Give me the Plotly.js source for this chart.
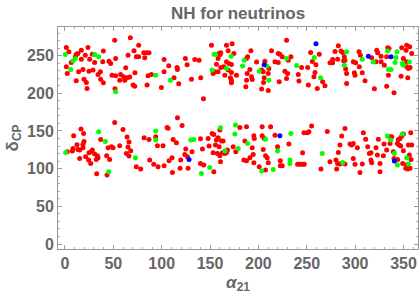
<!DOCTYPE html>
<html><head><meta charset="utf-8">
<script src="https://cdn.plot.ly/plotly-3.0.1.min.js"></script>
<style>html,body{margin:0;padding:0;background:#fff;}#chart{width:420px;height:299px;}</style>
</head><body><div id="chart"></div>
<script>
const redX = [1.4,4.1,11.7,13.4,10.7,16.9,21,23.8,28.3,39.7,6.5,16.9,25.5,30.7,39,1.4,14.1,18.6,24.8,29,2.4,34.2,36.6,11.7,19.7,22.1,36.9,39.7,22.8,51.4,67.6,76.2,71.4,65.2,73.8,76.2,81.4,84.2,86.9,82.5,45.5,47.3,52.4,62.8,72.4,48.6,52.4,57.6,60.7,56.6,64.2,66.9,61.8,70.4,72.1,51.7,85.9,89.4,84.9,102.5,107.3,102.5,99.7,112.8,117.6,124.5,126.3,115.9,116.3,134.2,138.7,130.8,140.4,143.2,151.5,159,161.1,160.4,156.6,167,172.8,168.7,174.6,158.3,167,169.4,172.1,164.2,161.1,154.9,153.2,158.3,168.7,172.1,165.3,171.1,172.1,172.1,177.3,
192.2,188.8,187.7,191.2,188.4,192.9,193.6,187.7,198.1,206.7,203.3,205,210.8,210.2,206,205.3,187,203.3,210.2,213.6,220.5,222.2,217.1,220.5,224.6,229.1,230.9,233.6,227.4,230.2,229.1,221.5,244.7,250.9,241.2,241.9,251.6,254,262.9,259.5,255.7,258.5,257.4,266.4,268.8,260.9,274,276.7,276.7,279.2,282.6,281.9,285.4,287.1,288.8,289.5,288.1,290.2,291.2,291.2,298.1,300.5,304,305.4,304.3,299.2,299.9,307.4,310.2,317.1,321.6,322.3,323.3,326.8,326.8,330.2,332.6,333.7,335,334.4,332.6,340.2,319.9,348.2,353.3,356.4,352.6,358.5,349.9,353.3,353.3,355.1,356.8,347.5,354.4,
116.3,121.1,51.4,16.6,19.3,9,36.9,60,64.2,19.7,18.6,12.4,8.3,7.6,2.4,13.4,15.2,18.6,28.3,27.3,24.8,30.7,33.5,34.2,21.4,15.2,24.5,26.6,32.4,44.5,48,49.7,56.6,66.2,65.2,68,43.1,46.2,63.5,66.2,73.8,78.3,32.8,43.5,81.8,86.9,93.8,95.6,101.4,87.6,91.8,96.3,105.6,106.6,111.8,115.2,102.5,107.6,110.7,111.1,119.7,119,127.3,124.9,123.9,126.6,131.4,140.1,140.1,143.5,153.9,142.1,148,149,152.1,153.9,153.2,155.6,156.6,158.3,160.1,161.8,163.5,159.4,157.7,160.1,160.8,162.8,168,167,165.3,173.9,176.6,
180.8,187.7,203.9,212.6,255,252.2,247.1,250.5,217.1,203.9,206,195.3,195.7,186,193.6,231.5,219.8,205,194.6,191.2,185,187.7,195.3,207.4,209.1,210.2,200.8,207.4,222.6,222.6,224.6,240.5,242.9,245.3,247.4,245.7,264.7,271.2,274,280.2,281.9,284.3,289.5,289.5,286.1,284.3,282.6,280.9,294.7,296.4,298.1,302.3,299.9,298.1,305,308.5,310.9,307.4,313,314.7,316.4,316.4,317.1,321.6,324,323,325.7,325.7,329.9,329.2,336.1,337.8,332.6,336.1,339.5,340.2,343.7,345.4,347.1,344.7,346.4,348.2,349.9,344,349.2,353.3,352.3,354.4,356.8,357.5,355.1,358.5,356.1,357.8,349.9];
const redY = [260.8,255.1,251.9,252.9,248.4,257.3,250.6,260.8,252,256,240.9,245.3,245.3,240.9,241.8,235.2,228.6,231.6,229.4,230.8,226.3,225,228.6,216.6,218.8,214.4,218.8,214,206.4,270.5,273.6,263.9,256.4,250.6,248.4,248.4,253.7,253.7,253.7,247.1,242.7,239.6,246.2,233.9,227.2,224.1,223.2,225,221.9,217.5,220.6,221.5,217.5,210.9,209.5,206,223.2,225,210.9,244.9,236.5,228.6,207.8,220.6,212.6,246.2,237.8,234.3,231.6,244.9,244,218.8,220.6,192.7,263.9,252.9,253.7,251.5,238.7,263.9,265.7,256.4,252.9,246.2,241.8,239.6,238.3,235.2,234.3,228.6,226.3,228.6,230.8,227.7,224.1,220.6,217.5,214,224.1,
256.4,248.4,246.2,231.6,226.3,221.9,218.4,217.5,241.4,242.7,230.8,228.6,233,226.3,220.6,214.4,208.7,205.6,203.8,256.4,252.9,252,241.8,240.9,248.4,270.5,244,248.4,229.4,226.3,219.7,215.3,234.3,234.3,225,216.2,210.9,254.2,252,237.8,242.3,227.7,221.9,215.3,210,206.4,240.5,240.5,244.9,255.5,263,245.3,256,254.2,248.4,244,243.1,232.1,226.3,213.1,241.8,240.5,255.1,250.6,235.2,227.2,224.1,227.2,216.6,247.1,241.8,257.3,253.7,249.3,241.8,237.4,248.4,260.4,259.5,224.1,209.5,200.7,206,260.4,263.9,261.7,257.3,252.9,246.2,241.8,235.2,233,234.3,222.8,220.6,
167.5,157.4,161.3,152.5,146.8,143.7,138.8,152.1,141.9,136.2,132.2,131.7,126.9,123.3,122.4,125.5,124.7,127.8,124.7,122.4,121.1,119.4,117.1,114.5,115.8,113.6,111.4,107,112.3,127.8,129.1,127.8,130.4,135.3,128.6,123.8,117.1,112.3,120.2,116.7,102.6,99.5,93.3,91.5,141,138.8,142.3,130.4,130.4,111.4,105.7,102.6,154.7,153.8,138.8,134.4,103.9,110.5,114.5,95,111.4,100.4,100.4,126,118.9,115.8,122.4,139.7,107,104.8,95.9,126,140.1,130,146.8,145.4,121.1,131.3,137.9,141,151.2,136.6,136.6,129.1,120.2,117.1,109.2,121.1,124.7,121.6,120.2,129.1,122.4,
154.7,155.6,155.6,155.6,156.5,149,147.6,147.6,144.5,143.7,140.1,143.7,140.1,136.6,127.8,132.6,129.1,125.5,118.9,114.5,111.4,110.5,107.9,117.1,114.5,107.9,102.6,98.1,110.5,103.9,103.9,105.7,105.7,105.7,105.7,121.1,99.5,149.4,109.2,111.4,107,106.1,106.1,153.4,143.2,131.3,121.6,99.5,132.6,131.3,133.5,127.8,105.7,113.6,95,147.6,139.2,106.1,129.1,120.2,121.1,111.4,107.9,127.8,139.2,118,107,95.9,132.6,117.1,142.3,142.3,124.7,133.5,122.4,113.6,133.5,131.3,130,138.8,140.1,143.2,145.9,112.3,107,104.8,100.4,99.5,100.4,147.6,131.3,131.3,118,112.3,123.8];
const greenX = [0.3,30.7,34.8,8.3,10.7,5.9,52.4,93.8,109,154.2,155.6,171.8,152.1,167,
185.3,183.6,208.8,200.8,210.8,229.1,239.5,257.8,264.3,291.2,288.8,307.4,318.8,333.7,343.3,342.3,341.3,334.4,337.1,348.8,349.9,356.1,
34.8,41.7,0.7,72.8,45.2,93.8,93.8,130.1,133.2,141.1,149.7,160.8,165.3,176.3,175.6,
233.6,207.4,188.8,179.1,219.8,203.3,215.3,232.6,232.6,266,287.1,333.3,336.8,340.6,348.8,343.7,353.3,355.1];
const greenY = [251.5,251.5,248.4,243.1,245.8,231.6,202,224.1,217.5,252,251.5,249.3,230.8,233,
244,236.1,236.1,229.4,217.5,246.2,237,247.6,220.6,255.1,237.4,245.3,241.4,256,255.1,247.6,240.9,231.6,231.6,239.6,237.4,241.4,
149,136.2,121.6,114.5,95.9,149.9,137.9,137.9,138.8,93.7,101.7,154.3,123.3,157.8,145.9,
146.8,139.2,133.5,126.9,123.3,96.8,99,111.4,107,120.2,108.3,143.2,137.9,120.2,145.9,104.8,114.5,106.1];
const blueX = [206,259.5,313.7,337.1,128.3,222.2,340.6];
const blueY = [237.8,265.7,249.3,248.4,112.3,143.7,110.1];
const xTicks = [0,50,100,150,200,250,300,350];
const yTicks = [0,50,100,150,200,250];

const mk = (c) => ({color:c, size:5, line:{width:0}});
const traces = [
  {x:redX, y:redY, type:'scatter', mode:'markers', marker:mk('#ff0000'), hoverinfo:'skip'},
  {x:greenX, y:greenY, type:'scatter', mode:'markers', marker:mk('#00ff00'), hoverinfo:'skip'},
  {x:blueX, y:blueY, type:'scatter', mode:'markers', marker:mk('#0000ff'), hoverinfo:'skip'}
];
const FF = 'Liberation Sans, Arial, sans-serif';
const tickFont = {family:FF, size:16, color:'#666666', weight:'bold'};
const axisCommon = {
  showgrid:false, zeroline:false, showline:true, linecolor:'#999999', linewidth:1, mirror:'allticks',
  ticks:'inside', ticklen:4, tickcolor:'#999999', tickwidth:1, tickfont:tickFont
};
const layout = {
  width:420, height:299,
  margin:{l:58, r:2, t:27, b:50},
  paper_bgcolor:'#ffffff', plot_bgcolor:'#ffffff',
  showlegend:false,
  title:{text:'NH for neutrinos', x:0.567, xanchor:'center', y:0.955, yanchor:'middle',
         font:{family:FF, size:17, color:'#666666', weight:'bold'}},
  xaxis:Object.assign({}, axisCommon, {range:[-7.2,365], tickvals:xTicks, ticktext:xTicks.map(String),
    minor:{ticks:'inside', ticklen:2, tickcolor:'#aaaaaa', dtick:10},
    title:{text:'<i>α</i><sub>21</sub>', standoff:4, font:{family:FF, size:17, color:'#666666', weight:'bold'}}}),
  yaxis:Object.assign({}, axisCommon, {range:[-6.6,288], tickvals:yTicks, ticktext:yTicks.map(String),
    minor:{ticks:'inside', ticklen:2, tickcolor:'#aaaaaa', dtick:10},
    title:{text:'δ<sub>CP</sub>', standoff:4, font:{family:FF, size:17, color:'#666666', weight:'bold'}}})
};
Plotly.newPlot('chart', traces, layout, {staticPlot:true, displayModeBar:false});
</script></body></html>
